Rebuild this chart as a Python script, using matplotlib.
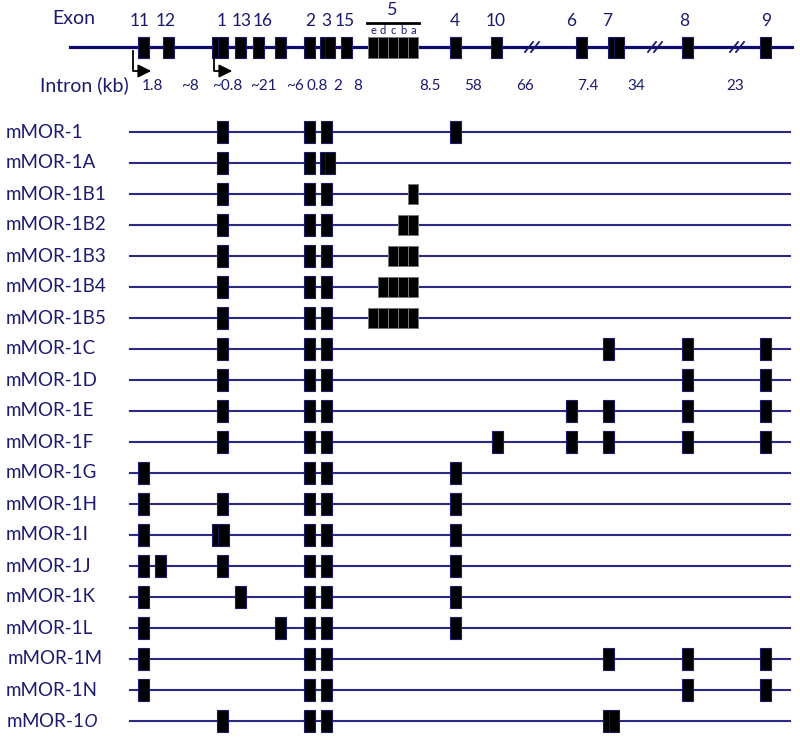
import matplotlib
matplotlib.use("Agg")
import matplotlib.pyplot as plt

plt.rcParams["mathtext.fontset"] = "custom"
plt.rcParams["mathtext.rm"] = "Lato"
plt.rcParams["mathtext.it"] = "Open Sans:italic"

NAVY = "#1a1a6e"
LINE = "#2a2a86"

# gene map (top), exon label -> x position, box width
map_exons = [("11", 143, 11), ("12", 168, 11), ("1", 220, 16), ("13", 240, 11),
             ("16", 258, 11), ("14", 280, 11), ("2", 309, 11), ("3", 327, 15),
             ("15", 346, 11), ("4", 455, 11), ("10", 496, 11), ("6", 581, 11),
             ("7", 616, 16), ("8", 687, 11), ("9", 765, 11)]
map_labels = [("11", 140), ("12", 166), ("1", 222), ("13", 242), ("16", 263),
              ("2", 310), ("3", 326), ("15", 345), ("4", 455), ("10", 496),
              ("6", 571), ("7", 607), ("8", 684), ("9", 766)]
exon5_sub = ["e", "d", "c", "b", "a"]
exon5_x = [373, 383, 393, 403, 413]
intron_kb = ["1.8", "~8", "~0.8", "~21", "~6", "0.8", "2", "8",
             "8.5", "58", "66", "7.4", "34", "23"]
intron_x = [152, 190, 227, 263, 295, 317, 338, 358, 430, 473, 525, 588, 636, 735]
breaks_x = [533, 656, 738]
promoters_x = [133, 214]

# isoform rows: exon position and width
exon_pos = {"11": (143, 11), "12": (160, 11), "1": (222, 11), "1w": (220, 17),
            "13": (240, 11), "14": (280, 11), "2": (309, 11), "3": (326, 11),
            "3w": (327, 15), "4": (455, 11), "10": (497, 11), "6": (571, 11),
            "7": (608, 11), "7w": (611, 16), "8": (687, 11), "9": (765, 11),
            "5a": (413, 10), "5b": (403, 10), "5c": (393, 10), "5d": (383, 10),
            "5e": (373, 10)}
isoforms = ["mMOR-1", "mMOR-1A", "mMOR-1B1", "mMOR-1B2", "mMOR-1B3", "mMOR-1B4",
            "mMOR-1B5", "mMOR-1C", "mMOR-1D", "mMOR-1E", "mMOR-1F", "mMOR-1G",
            "mMOR-1H", "mMOR-1I", "mMOR-1J", "mMOR-1K", "mMOR-1L", "mMOR-1M",
            "mMOR-1N", "mMOR-1$\\mathit{O}$"]
structures = [
    ["1", "2", "3", "4"],
    ["1", "2", "3w"],
    ["1", "2", "3", "5a"],
    ["1", "2", "3", "5b", "5a"],
    ["1", "2", "3", "5c", "5b", "5a"],
    ["1", "2", "3", "5d", "5c", "5b", "5a"],
    ["1", "2", "3", "5e", "5d", "5c", "5b", "5a"],
    ["1", "2", "3", "7", "8", "9"],
    ["1", "2", "3", "8", "9"],
    ["1", "2", "3", "6", "7", "8", "9"],
    ["1", "2", "3", "10", "6", "7", "8", "9"],
    ["11", "2", "3", "4"],
    ["11", "1", "2", "3", "4"],
    ["11", "1w", "2", "3", "4"],
    ["11", "12", "1", "2", "3", "4"],
    ["11", "13", "2", "3", "4"],
    ["11", "14", "2", "3", "4"],
    ["11", "2", "3", "7", "8", "9"],
    ["11", "2", "3", "8", "9"],
    ["1", "2", "3", "7w"],
]

fig = plt.figure(figsize=(8, 7.4), dpi=100)
ax = fig.add_axes([0, 0, 1, 1])
ax.set_xlim(0, 800)
ax.set_ylim(740, 0)
ax.axis("off")
font = "Lato"

# ---- gene map ----
gy = 47
ax.plot([70, 792], [gy, gy], color="#0c0c70", lw=2.3, zorder=1)
for lab, x, w in map_exons:
    ax.bar(x, 21, width=w, bottom=gy - 10.5, color="black", edgecolor=NAVY, lw=0.8, zorder=3)
    if w > 12:
        ax.plot([x - 2, x - 2], [gy - 10, gy + 10], color=NAVY, lw=0.6, zorder=4)
ax.bar(exon5_x, 21, width=10, bottom=gy - 10.5, color="black", edgecolor="#777777", lw=0.7, zorder=3)
for s, x in zip(exon5_sub, exon5_x):
    ax.text(x, 30, s, ha="center", va="center", fontsize=8, color=NAVY, family=font)
ax.plot([367, 419], [23, 23], color="black", lw=2)
ax.text(392, 10, "5", ha="center", va="center", fontsize=13, color=NAVY, family=font)
for lab, x in map_labels:
    ax.text(x, 21, lab, ha="center", va="center", fontsize=12.5, color=NAVY, family=font)
ax.text(52, 18, "Exon", ha="left", va="center", fontsize=14, color=NAVY, family=font)
ax.text(40, 85, "Intron (kb)", ha="left", va="center", fontsize=14, color=NAVY, family=font)
for s, x in zip(intron_kb, intron_x):
    ax.text(x, 86, s, ha="center", va="center", fontsize=11, color=NAVY, family=font)
for x in breaks_x:
    for dx in (-4, 2):
        ax.plot([x + dx - 4, x + dx + 4], [gy + 5, gy - 5], color=NAVY, lw=1.3, zorder=4)
for x in promoters_x:
    ax.plot([x, x, x + 12], [gy + 4, gy + 24, gy + 24], color="black", lw=1.3, zorder=4)
    ax.annotate("", xy=(x + 21, gy + 24), xytext=(x + 10, gy + 24),
                arrowprops=dict(arrowstyle="-|>,head_width=0.4,head_length=0.8",
                                color="black", lw=1.2))

# ---- isoforms ----
for i, (name, exons) in enumerate(zip(isoforms, structures)):
    y = 132 + 31 * i
    ax.plot([130, 790], [y, y], color=LINE, lw=1.5, zorder=1)
    x0 = 8 if name == "mMOR-1M" else 6
    ax.text(x0, y, name, ha="left", va="center", fontsize=13.5, color=NAVY, family=font)
    for e in exons:
        x, w = exon_pos[e]
        if e.startswith("5"):
            ax.bar(x, 20, width=w, bottom=y - 10, color="black", edgecolor="#777777", lw=0.7, zorder=3)
        else:
            ax.bar(x, 22, width=w, bottom=y - 11, color="black", edgecolor=NAVY, lw=0.8, zorder=3)
            if w > 12:
                ax.plot([x - 2, x - 2], [y - 10, y + 10], color=NAVY, lw=0.6, zorder=4)

fig.savefig("out.png", dpi=100)
